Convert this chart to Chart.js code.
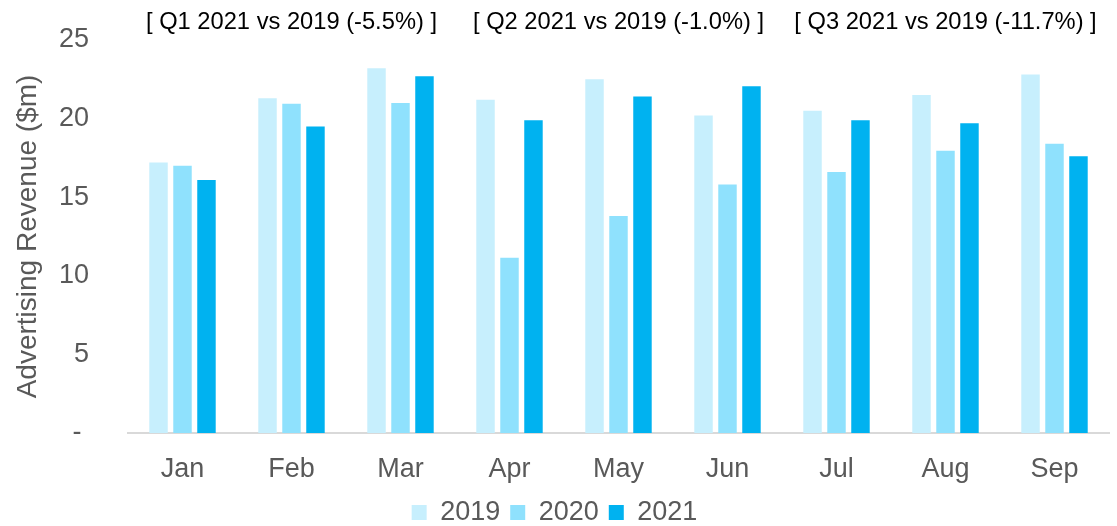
<!DOCTYPE html>
<html>
<head>
<meta charset="utf-8">
<title>Advertising Revenue 2019-2021</title>
<script src="https://cdn.jsdelivr.net/npm/chart.js@4.4.0/dist/chart.umd.min.js"></script>
<style>
    html, body { margin: 0; padding: 0; background: #fff; }
    #wrap { width: 1117px; height: 526px; position: relative; }
</style>
</head>
<body>
<div id="wrap"><canvas id="revenueChart"></canvas></div>
<script>
// Data bulanan (dalam $m)
const months = ['Jan', 'Feb', 'Mar', 'Apr', 'May', 'Jun', 'Jul', 'Aug', 'Sep'];
const rev2019 = [17.2, 21.3, 23.2, 21.2, 22.5, 20.2, 20.5, 21.5, 22.8];
const rev2020 = [17.0, 20.95, 21.0, 11.15, 13.8, 15.8, 16.6, 17.95, 18.4];
const rev2021 = [16.1, 19.5, 22.7, 19.9, 21.4, 22.05, 19.9, 19.7, 17.6];
const yTicks = [0, 5, 10, 15, 20, 25];

// Catatan per kuartal, ditaruh di atas bulan tengah tiap kuartal
const quarterNotes = ['[ Q1 2021 vs 2019 (-5.5%) ]', '[ Q2 2021 vs 2019 (-1.0%) ]', '[ Q3 2021 vs 2019 (-11.7%) ]'];
const quarterMonths = ['Feb', 'May', 'Aug'];

const FONT = "'Liberation Sans', Arial, sans-serif";
const GREY = '#595959';

/**
 * Plugin untuk menulis catatan kuartal di atas chart
 */
const quarterNotesPlugin = {
    id: 'quarterNotes',
    afterDraw(chart) {
        const ctx = chart.ctx;
        const xScale = chart.scales.x;
        ctx.save();
        ctx.font = '23.7px ' + FONT;
        ctx.fillStyle = '#000';
        ctx.textAlign = 'center';
        ctx.textBaseline = 'middle';
        quarterNotes.forEach((note, i) => {
            const w = ctx.measureText(note).width;
            let x = xScale.getPixelForValue(months.indexOf(quarterMonths[i]));
            // jangan sampai keluar kanan
            x = Math.min(x, chart.chartArea.right + 1 - w / 2);
            ctx.fillText(note, x, 22);
        });
        ctx.restore();
    }
};

function initializeChart() {
    const ctx = document.getElementById('revenueChart').getContext('2d');
    return new Chart(ctx, {
        type: 'bar',
        data: {
            labels: months,
            datasets: [
                { label: '2019', data: rev2019, backgroundColor: '#C7EFFD' },
                { label: '2020', data: rev2020, backgroundColor: '#8FE1FD' },
                { label: '2021', data: rev2021, backgroundColor: '#00B2F0' }
            ]
        },
        options: {
            responsive: true,
            maintainAspectRatio: false,
            animation: false,
            categoryPercentage: 0.66,
            barPercentage: 0.77,
            layout: {
                padding: { top: 40, right: 8, bottom: -10, left: 0 }
            },
            plugins: {
                tooltip: { enabled: false },
                legend: {
                    position: 'bottom',
                    labels: {
                        font: { family: FONT, size: 27 },
                        color: GREY,
                        boxWidth: 15,
                        boxHeight: 15,
                        padding: 10
                    }
                }
            },
            scales: {
                x: {
                    grid: { display: false },
                    border: { display: true, color: '#D9D9D9', width: 2 },
                    ticks: {
                        font: { family: FONT, size: 27 },
                        color: GREY,
                        padding: 12
                    },
                    afterFit(scale) { scale.height = 56; }
                },
                y: {
                    min: 0,
                    max: 25,
                    grid: { display: false },
                    border: { display: false },
                    afterBuildTicks(scale) {
                        scale.ticks = yTicks.map(v => ({ value: v }));
                    },
                    ticks: {
                        font: { family: FONT, size: 27 },
                        color: GREY,
                        padding: 31,
                        callback: v => (v === 0 ? '- ' : v)
                    },
                    title: {
                        display: true,
                        text: 'Advertising Revenue ($m)',
                        font: { family: FONT, size: 28 },
                        color: GREY,
                        padding: { top: 11, bottom: 22 }
                    },
                    afterFit(scale) {
                        scale.width = 128;
                        // padding label jangan ikut mendorong area plot
                        scale.paddingTop = 0;
                        scale.paddingBottom = 0;
                    }
                }
            }
        },
        plugins: [quarterNotesPlugin]
    });
}

initializeChart();
</script>
</body>
</html>
